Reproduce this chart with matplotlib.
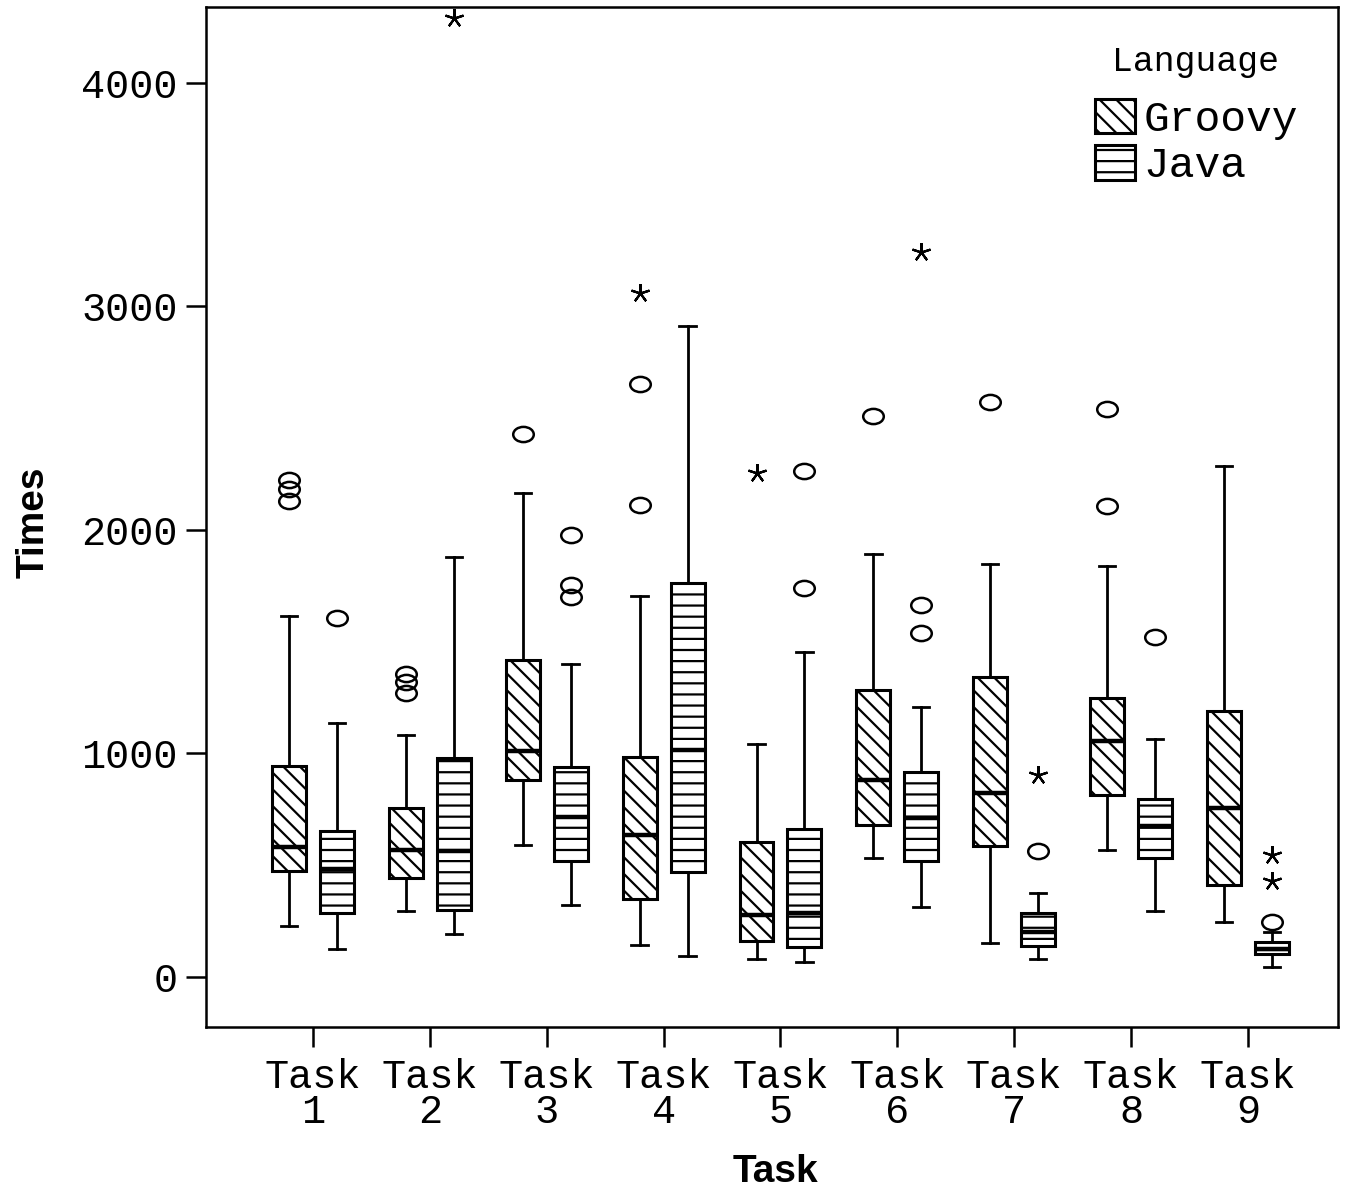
import numpy as np
import matplotlib
matplotlib.use("Agg")
import matplotlib.pyplot as plt
from matplotlib.patches import Patch
from matplotlib.path import Path

# Values
tasks = ["Task\n1", "Task\n2", "Task\n3", "Task\n4", "Task\n5",
         "Task\n6", "Task\n7", "Task\n8", "Task\n9"]

groovy_whislo = [229, 296, 590, 145, 79, 531, 151, 567, 248]
groovy_q1 = [476, 441, 881, 350, 161, 680, 586, 812, 412]
groovy_med = [581, 569, 1013, 637, 277, 879, 821, 1055, 757]
groovy_q3 = [943, 758, 1418, 982, 603, 1285, 1342, 1250, 1188]
groovy_whishi = [1616, 1084, 2164, 1703, 1042, 1891, 1847, 1840, 2288]
groovy_circles = [[2225, 2185, 2130], [1357, 1318, 1269], [2428], [2653, 2112],
                  [], [2508], [2571], [2543, 2109], []]
groovy_stars = [[], [], [], [3059], [2256], [], [], [], []]

java_whislo = [127, 194, 322, 94, 68, 315, 81, 297, 45]
java_q1 = [287, 300, 520, 469, 134, 520, 138, 534, 102]
java_med = [481, 564, 714, 1016, 284, 711, 202, 675, 123]
java_q3 = [652, 981, 939, 1761, 663, 916, 288, 795, 155]
java_whishi = [1137, 1880, 1401, 2911, 1452, 1208, 376, 1064, 202]
java_circles = [[1607], [], [1979, 1753, 1700], [], [2265, 1739], [1666, 1538],
                [562], [1521], [248]]
java_stars = [[], [4291], [], [], [], [3244], [903], [], [544, 429]]

mono = "Liberation Mono"
groovy_hatch = "\\\\\\\\"
java_hatch = "---"
plt.rcParams["hatch.linewidth"] = 0.8

fig = plt.figure(figsize=(6.8, 5.94), dpi=200)
ax = fig.add_axes([206 / 1360, 1 - 1027 / 1188, 1132 / 1360, 1020 / 1188])

pos = np.arange(1, len(tasks) + 1)
off = 0.205

# ellipse marker for outliers
ell = Path.unit_circle()
ell = Path(ell.vertices * np.array([1.0, 0.74]), ell.codes)


def draw_group(x, lo, q1, med, q3, hi, circles, stars, hatch):
    stats = []
    for i in range(len(x)):
        stats.append(dict(whislo=lo[i], q1=q1[i], med=med[i], q3=q3[i],
                          whishi=hi[i], fliers=[]))
    ax.bxp(stats, positions=x, widths=0.29, capwidths=0.14, patch_artist=True,
           showfliers=False,
           boxprops=dict(facecolor="white", edgecolor="black", linewidth=1.1, hatch=hatch),
           medianprops=dict(color="black", linewidth=1.6),
           whiskerprops=dict(color="black", linewidth=1.0),
           capprops=dict(color="black", linewidth=1.0))
    for i in range(len(x)):
        if circles[i]:
            ax.plot([x[i]] * len(circles[i]), circles[i], linestyle="none",
                    marker=ell, markersize=7.4, markerfacecolor="none",
                    markeredgecolor="black", markeredgewidth=0.9)
        if stars[i]:
            ax.plot([x[i]] * len(stars[i]), stars[i], linestyle="none",
                    marker=(5, 2, 0), markersize=6.8, color="black",
                    markeredgewidth=0.8)


draw_group(pos - off, groovy_whislo, groovy_q1, groovy_med, groovy_q3,
           groovy_whishi, groovy_circles, groovy_stars, groovy_hatch)
draw_group(pos + off, java_whislo, java_q1, java_med, java_q3,
           java_whishi, java_circles, java_stars, java_hatch)

ax.set_xlim(0.085, 9.77)
ax.set_ylim(-224, 4340)
ax.set_xticks(pos)
ax.set_xticklabels(tasks, fontfamily=mono, fontsize=14.5, linespacing=0.9)
ax.set_yticks([0, 1000, 2000, 3000, 4000])
ax.set_yticklabels(["0", "1000", "2000", "3000", "4000"], fontfamily=mono, fontsize=14.5)
ax.tick_params(axis="x", direction="out", length=7.2, width=0.9, pad=4)
ax.tick_params(axis="y", direction="out", length=7.2, width=0.9, pad=3)
for s in ax.spines.values():
    s.set_linewidth(0.9)

ax.set_xlabel("Task", fontfamily="Liberation Sans", fontweight="bold", fontsize=14)
ax.set_ylabel("Times", fontfamily="Liberation Sans", fontweight="bold", fontsize=14)
ax.xaxis.set_label_coords(0.5035, -0.125)
ax.yaxis.set_label_coords(-0.136, 0.495)

handles = [Patch(facecolor="white", edgecolor="black", linewidth=1.1, hatch=groovy_hatch),
           Patch(facecolor="white", edgecolor="black", linewidth=1.1, hatch=java_hatch)]
leg = ax.legend(handles, ["Groovy", "Java"], frameon=False,
                loc="upper left", bbox_to_anchor=(1095 / 1360, 1 - 99 / 1188),
                bbox_transform=fig.transFigure, borderpad=0, borderaxespad=0,
                handlelength=0.93, handleheight=0.85, handletextpad=0.2,
                labelspacing=0.12, prop=dict(family=mono, size=15.5))
fig.text(1196 / 1360, 1 - 61 / 1188, "Language", family=mono, fontsize=12.5,
         ha="center", va="center")

fig.savefig("out.png", dpi=200)
